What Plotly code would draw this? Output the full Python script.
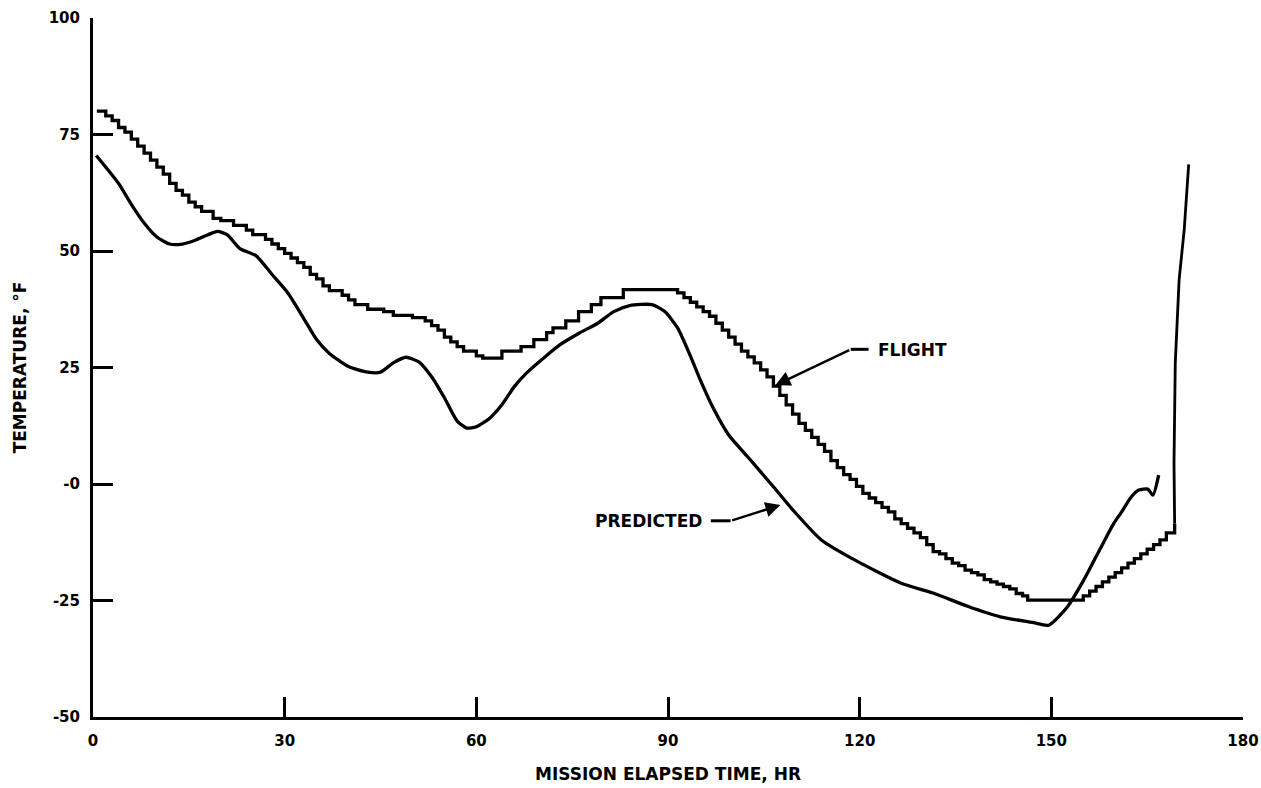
import plotly.graph_objects as go

# ---------------- data ----------------
flight_x = [0.6, 2, 3, 4, 5, 6, 7, 8, 9, 10, 11, 12, 13, 14, 15, 16, 17, 18.8, 20, 22, 24, 25, 27, 28, 29, 30,
            31, 32, 33, 34, 35, 36, 37, 39, 40, 41, 43, 45.5, 47, 50, 52, 53, 54, 55, 56, 57, 58, 60, 61, 64,
            67, 69, 71, 72, 74, 76, 78, 79.5, 83, 91.5, 92.5, 93.5, 94.5, 95.5, 96.5, 97.5, 98.5, 99.5, 100.5,
            101.5, 102.5, 103.5, 104.5, 105.5, 106.5, 107.5, 108.5, 109.5, 110.5, 111.5, 112.5, 113.5, 114.5,
            115.5, 116.5, 117.5, 118.5, 119.5, 120.5, 121.5, 122.5, 123.5, 124.5, 125.5, 126.5, 127.5, 128.5,
            129.5, 130.5, 131.5, 132.5, 133.5, 134.5, 135.5, 136.5, 137.5, 138.5, 139.5, 140.5, 141.5, 142.5,
            143.5, 144.5, 145.5, 146.3, 155, 156, 157, 158, 159, 160, 161, 162, 163, 164, 165, 166, 167, 168,
            169.3]
flight_y = [80, 79, 78, 76.5, 75.5, 74, 72.5, 71, 69.5, 68, 66.5, 64.5, 63, 62, 60.5, 59.5, 58.5, 57, 56.5, 55.5,
            54.5, 53.5, 52.5, 51.5, 50.5, 49.5, 48.5, 47.5, 46.5, 45, 44, 42.5, 41.5, 40.5, 39.5, 38.5, 37.5,
            37, 36.2, 35.7, 35, 34, 33, 31.5, 30.5, 29.5, 28.5, 27.5, 27, 28.5, 29.5, 31, 32.5, 33.5, 35, 37,
            38.5, 40, 41.7, 41, 40, 39, 38, 37, 36, 34.5, 33, 31.5, 30, 28.5, 27.3, 26, 24.5, 23, 21, 19, 17,
            15, 13, 11.5, 10, 8.5, 7, 5, 3.5, 2, 1, -0.5, -2, -3, -4, -5, -6, -7.5, -8.5, -9.5, -10.5, -11.5,
            -13, -14.5, -15, -16, -17, -17.5, -18.5, -19, -19.5, -20.5, -21, -21.5, -22, -22.5, -23.5, -24,
            -24.9, -24, -23, -22, -21, -20, -19, -18, -17, -16, -15, -14, -13, -12, -10.5, -8.5]

# final rapid rise of the flight trace
flight_rise_x = [169.3, 169.2, 169.4, 170.0, 170.8, 171.5]
flight_rise_y = [-8.5, 4.5, 26.0, 43.8, 54.6, 68.6]

predicted_x = [0.5, 2, 4, 6, 8, 10, 12, 14, 16, 18, 19.5, 21, 23, 25.5, 28, 30.5, 33, 35, 37, 40, 43, 45, 47,
               49, 51, 53, 55, 57, 58.5, 60, 62, 64, 66, 68, 70.5, 73, 76, 79, 81.5, 84, 87.5, 89.5, 91.5,
               93.5, 95, 97, 99.5, 102.5, 106.5, 109.5, 114, 119.5, 126.5, 131.5, 137, 142, 147, 149.6,
               152.5, 155, 157.8, 159.8, 161, 162.5, 163.7, 165.1, 165.9, 166.8]
predicted_y = [70.5, 68, 64.5, 60, 56, 53, 51.5, 51.5, 52.3, 53.5, 54.2, 53.5, 50.5, 49, 45, 41, 35.5, 31, 28,
               25.2, 24, 24, 26, 27.2, 26.2, 23, 18.5, 13.5, 12, 12.3, 14, 17, 21, 24, 27, 29.8, 32.3, 34.5,
               37, 38.3, 38.5, 37, 33.5, 27.5, 22.5, 16.5, 10.5, 5.8, -0.6, -5.5, -12, -16.5, -21.3, -23.4,
               -26.3, -28.5, -29.7, -30.3, -26.4, -20.8, -13.5, -8.4, -6, -2.8, -1.3, -1.1, -2.4, 1.9]

x_ticks = [0, 30, 60, 90, 120, 150, 180]
y_ticks = [-50, -25, 0, 25, 50, 75, 100]
y_tick_text = ["-50", "-25", "-0", "25", "50", "75", "100"]

# annotation anchor points (data units)
flight_label = (128.3, 28.7)
flight_arrow_tail = (118.6, 28.9)
flight_arrow_bend = (121.4, 28.9)
flight_arrow_tip = (106.8, 21.2)
pred_label = (86.9, -7.9)
pred_arrow_tail = (99.8, -7.9)
pred_arrow_bend = (96.7, -7.9)
pred_arrow_tip = (107.6, -4.5)

FONT = "DejaVu Sans"
LW = 3.3

fig = go.Figure()
fig.add_trace(go.Scatter(x=flight_x, y=flight_y, mode="lines", line=dict(color="black", width=LW, shape="hv"),
                         showlegend=False, hoverinfo="skip"))
fig.add_trace(go.Scatter(x=flight_rise_x, y=flight_rise_y, mode="lines", line=dict(color="black", width=LW * 0.85),
                         showlegend=False, hoverinfo="skip"))
fig.add_trace(go.Scatter(x=predicted_x, y=predicted_y, mode="lines",
                         line=dict(color="black", width=LW, shape="spline", smoothing=0.6),
                         showlegend=False, hoverinfo="skip"))

# labels
fig.add_annotation(x=flight_label[0], y=flight_label[1], text="<b>FLIGHT</b>", showarrow=False,
                   font=dict(family=FONT, size=17, color="black"), xanchor="center", yanchor="middle")
fig.add_annotation(x=pred_label[0], y=pred_label[1], text="<b>PREDICTED</b>", showarrow=False,
                   font=dict(family=FONT, size=17, color="black"), xanchor="center", yanchor="middle")

# arrows
for tail, bend, tip in [(flight_arrow_tail, flight_arrow_bend, flight_arrow_tip),
                        (pred_arrow_tail, pred_arrow_bend, pred_arrow_tip)]:
    fig.add_shape(type="line", x0=bend[0], y0=bend[1], x1=tail[0], y1=tail[1],
                  line=dict(color="black", width=3))
    fig.add_annotation(x=tip[0], y=tip[1], ax=tail[0], ay=tail[1], axref="x", ayref="y",
                       xref="x", yref="y", text="", showarrow=True, arrowhead=2, arrowsize=1.2,
                       arrowwidth=2.5, arrowcolor="black")

fig.update_xaxes(range=[0, 180], tickvals=x_ticks, ticktext=[str(v) for v in x_ticks],
                 showline=True, linecolor="black", linewidth=3, ticks="inside", ticklen=20,
                 tickwidth=2.5, tickcolor="black", showgrid=False, zeroline=False, automargin=False,
                 tickfont=dict(family=FONT, size=15, color="black", weight="bold"),
                 ticklabelstandoff=8,
                 title=dict(text="<b>MISSION ELAPSED TIME, HR</b>", font=dict(family=FONT, size=17, color="black"),
                            standoff=20))
fig.update_yaxes(range=[-50, 100], tickvals=y_ticks, ticktext=y_tick_text,
                 showline=True, linecolor="black", linewidth=3, ticks="inside", ticklen=20,
                 tickwidth=2.5, tickcolor="black", showgrid=False, zeroline=False, automargin=False,
                 tickfont=dict(family=FONT, size=15, color="black", weight="bold"),
                 ticklabelstandoff=7,
                 title=dict(text="<b>TEMPERATURE, °F</b>", font=dict(family=FONT, size=17, color="black"),
                            standoff=18))

fig.update_layout(width=1261, height=788, margin=dict(l=93, r=18, t=18, b=71),
                  plot_bgcolor="white", paper_bgcolor="white")

fig.write_html("out.html", config={"displayModeBar": False},
               post_script="document.body.style.margin='0';document.body.style.overflow='hidden';")
